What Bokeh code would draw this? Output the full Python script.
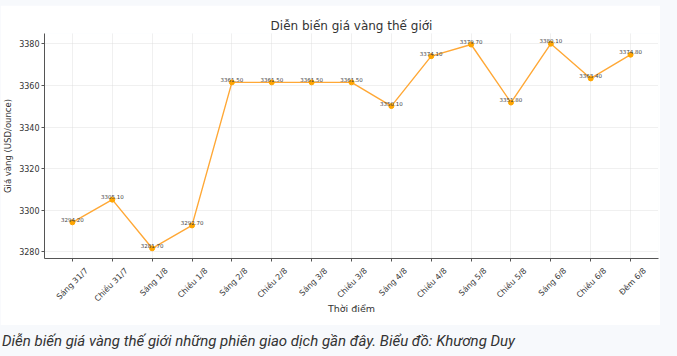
import math
from bokeh.plotting import figure
from bokeh.models import ColumnDataSource, FixedTicker, Div, Spacer, LinearAxis
from bokeh.layouts import column
from bokeh.core.properties import value
from bokeh.embed import file_html
from bokeh.resources import INLINE

categories = ["Sáng 31/7", "Chiều 31/7", "Sáng 1/8", "Chiều 1/8", "Sáng 2/8",
              "Chiều 2/8", "Sáng 3/8", "Chiều 3/8", "Sáng 4/8", "Chiều 4/8",
              "Sáng 5/8", "Chiều 5/8", "Sáng 6/8", "Chiều 6/8", "Đêm 6/8"]
prices = [3294.20, 3305.10, 3281.70, 3292.70, 3361.50,
          3361.50, 3361.50, 3361.50, 3350.10, 3374.10,
          3379.70, 3351.80, 3380.10, 3363.40, 3374.80]
y_ticks = [3280, 3300, 3320, 3340, 3360, 3380]

title = "Diễn biến giá vàng thế giới"
x_label = "Thời điểm"
y_label = "Giá vàng (USD/ounce)"
caption = "Diễn biến giá vàng thế giới những phiên giao dịch gần đây. Biểu đồ: Khương Duy"

Y0, Y1 = 3276.8, 3385.0
X0, X1 = -0.7, 14.7
LABEL_SHIFT = 0.36   # moves right-aligned rotated labels so they look centred under ticks

idx = list(range(len(categories)))
src = ColumnDataSource(dict(x=idx, y=prices, lab=[f"{v:.2f}" for v in prices]))

FONT = "DejaVu Sans"
BG = "#f7f9fc"

p = figure(width=660, height=320, output_backend="svg", toolbar_location=None,
           x_range=(X0, X1), y_range=(Y0, Y1),
           min_border_left=42, min_border_right=2, min_border_top=28, min_border_bottom=67,
           title=title)
p.background_fill_color = "white"
p.border_fill_color = "white"
p.outline_line_color = None

p.title.align = "center"
p.title.text_font = FONT
p.title.text_font_size = "12px"
p.title.text_font_style = "normal"
p.title.text_color = "#333333"
p.title.standoff = 2

for ax in (p.xaxis[0], p.yaxis[0]):
    ax.axis_line_color = "#555555"
    ax.major_tick_line_color = "#555555"
    ax.major_tick_out = 3
    ax.major_tick_in = 0
    ax.minor_tick_line_color = None
    ax.major_label_text_font = FONT
    ax.major_label_text_color = "#333333"
    ax.axis_label_text_font = FONT
    ax.axis_label_text_font_style = "normal"
    ax.axis_label_text_color = "#333333"

# axis with the ticks (no labels)
xa = p.xaxis[0]
xa.ticker = FixedTicker(ticks=idx)
xa.major_label_overrides = {i: "" for i in idx}
xa.major_label_text_font_size = "1px"
xa.major_label_standoff = 0

# axis carrying the rotated category labels
lab_pos = [round(i + LABEL_SHIFT, 2) for i in idx]
xb = LinearAxis(ticker=FixedTicker(ticks=lab_pos),
                major_label_overrides={pos: c for pos, c in zip(lab_pos, categories)},
                major_label_orientation=math.pi / 4,
                major_label_text_font=FONT, major_label_text_font_size="8px",
                major_label_text_color="#3a3a3a", major_label_standoff=2,
                axis_line_color=None, major_tick_line_color=None, minor_tick_line_color=None,
                axis_label=x_label, axis_label_text_font=FONT, axis_label_text_font_size="9.5px",
                axis_label_text_font_style="normal", axis_label_text_color="#333333",
                axis_label_standoff=-7)
p.add_layout(xb, "below")

p.yaxis.ticker = FixedTicker(ticks=y_ticks)
p.yaxis.major_label_text_font_size = "8px"
p.yaxis.major_label_standoff = 2
p.yaxis.axis_label = y_label
p.yaxis.axis_label_text_font_size = "8.5px"
p.yaxis.axis_label_standoff = 3

for g in (p.xgrid[0], p.ygrid[0]):
    g.grid_line_color = "#d9d9d9"
    g.grid_line_dash = "1 1"
    g.grid_line_width = 0.8

p.line("x", "y", source=src, line_color="#ffa836", line_width=1.4)
p.scatter("x", "y", source=src, size=5, fill_color="#ffa500", line_color="#ffa500")
p.text("x", "y", text="lab", source=src, text_font=value(FONT), text_font_size="5.5px",
       text_color="#444444", text_align="center", text_baseline="middle", y_offset=-3)

cap = Div(text=caption, width=677, height=31, margin=(0, 0, 0, 0),
          styles={"font-style": "italic", "font-size": "15px", "font-family": "Roboto",
                  "color": "#333333", "padding-left": "2px", "padding-top": "6px",
                  "white-space": "nowrap"})

layout = column(Spacer(width=677, height=5, margin=(0, 0, 0, 0)), p, cap,
                width=677, height=356, spacing=0,
                styles={"background-color": BG})

open("out.html", "w").write(file_html(layout, INLINE))
